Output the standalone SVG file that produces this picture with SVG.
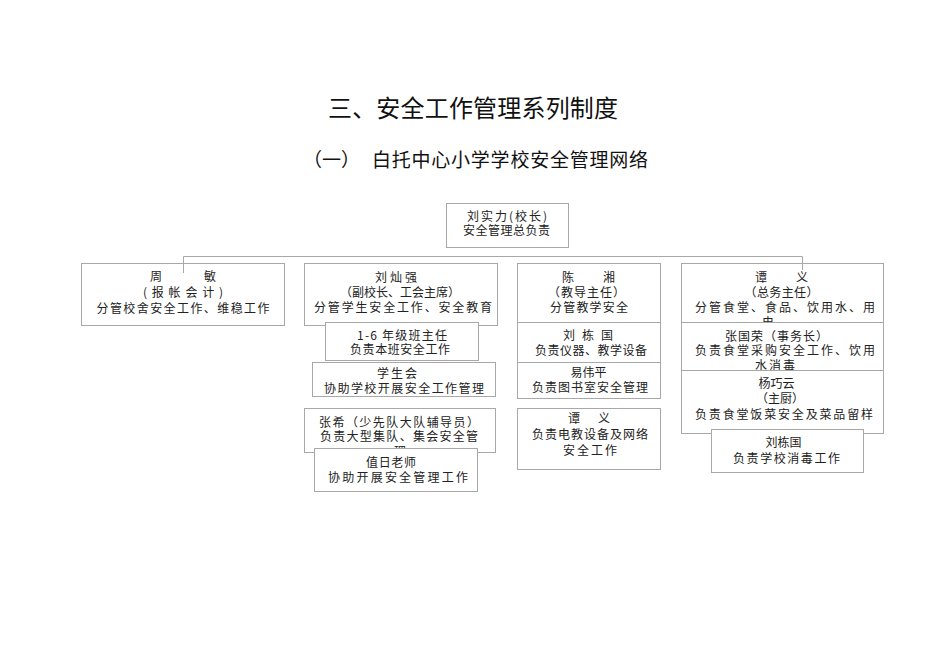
<svg xmlns="http://www.w3.org/2000/svg" width="950" height="672" viewBox="0 0 950 672">
<style>
.bx{fill:#fff;stroke:#a8a8a8;stroke-width:1}
.t{font-family:"Noto Sans CJK SC","Noto Sans",sans-serif;font-size:12px;fill:#222;text-anchor:middle}
.ln{stroke:#a8a8a8;stroke-width:1;fill:none}
.h1{font-family:"Noto Sans CJK SC",sans-serif;font-size:24px;fill:#111;text-anchor:middle}
.h2{font-family:"Noto Sans CJK SC",sans-serif;font-size:19px;fill:#111}
</style>
<rect width="950" height="672" fill="#fff"/>
<text class="h1" x="473" y="117" textLength="290" lengthAdjust="spacing">三、安全工作管理系列制度</text>
<text class="h2" x="303" y="167">（一）</text>
<text class="h2" x="372" y="167" textLength="276" lengthAdjust="spacing">白托中心小学学校安全管理网络</text>

<g id="n-top"><rect class="bx" x="446.5" y="203.5" width="122" height="44"/>
<text class="t" x="507" y="220.5" textLength="80" lengthAdjust="spacing">刘实力(校长)</text>
<text class="t" x="506.5" y="235" textLength="87" lengthAdjust="spacing">安全管理总负责</text></g>

<g id="n-zhoumin"><rect class="bx" x="81.5" y="263.5" width="203" height="62"/>
<text class="t" x="183" y="281" textLength="66" lengthAdjust="spacing">周　　　敏</text>
<text class="t" x="183" y="296.5" textLength="80" lengthAdjust="spacing">(报帐会计)</text>
<text class="t" x="183" y="313" textLength="173" lengthAdjust="spacing">分管校舍安全工作、维稳工作</text></g>

<g id="n-liucanqiang"><rect class="bx" x="304.5" y="263.5" width="193" height="62"/>
<text class="t" x="396" y="282" textLength="42" lengthAdjust="spacing">刘 灿 强</text>
<text class="t" x="400" y="296.5" textLength="120" lengthAdjust="spacing">（副校长、工会主席）</text>
<text class="t" x="403" y="311.5" textLength="178" lengthAdjust="spacing">分管学生安全工作、安全教育</text></g>

<g id="n-banzhuren"><rect class="bx" x="325.5" y="322.5" width="153" height="38"/>
<text class="t" x="402" y="339.5" textLength="90" lengthAdjust="spacing">1-6 年级班主任</text>
<text class="t" x="400" y="353.5" textLength="100" lengthAdjust="spacing">负责本班安全工作</text></g>

<g id="n-xueshenghui"><rect class="bx" x="312.5" y="362.5" width="183" height="34"/>
<text class="t" x="397" y="377.5" textLength="40" lengthAdjust="spacing">学 生 会</text>
<text class="t" x="404" y="392.5" textLength="160" lengthAdjust="spacing">协助学校开展安全工作管理</text></g>

<g id="n-zhangxi"><rect class="bx" x="304.5" y="408.5" width="191" height="44"/>
<text class="t" x="399" y="426.5" textLength="160" lengthAdjust="spacing">张希（少先队大队辅导员）</text>
<text class="t" x="399" y="440.5" textLength="158" lengthAdjust="spacing">负责大型集队、集会安全管</text>
<text class="t" x="400" y="455.5">理</text></g>

<g id="n-zhiri"><rect class="bx" x="314.5" y="448.5" width="163" height="43"/>
<text class="t" x="391" y="466.5" textLength="50" lengthAdjust="spacing">值日老师</text>
<text class="t" x="398" y="482" textLength="140" lengthAdjust="spacing">协助开展安全管理工作</text></g>

<g id="n-chenxiang"><rect class="bx" x="517.5" y="263.5" width="143" height="59"/>
<text class="t" x="588.5" y="282" textLength="53" lengthAdjust="spacing">陈　　湘</text>
<text class="t" x="586.5" y="296.5" textLength="77" lengthAdjust="spacing">（教导主任）</text>
<text class="t" x="589" y="311.5" textLength="78" lengthAdjust="spacing">分管教学安全</text></g>

<g id="n-liudongguo1"><rect class="bx" x="517.5" y="322.5" width="143" height="40"/>
<text class="t" x="588" y="339.5" textLength="50" lengthAdjust="spacing">刘 栋 国</text>
<text class="t" x="591" y="354.5" textLength="112" lengthAdjust="spacing">负责仪器、教学设备</text></g>

<g id="n-yiweiping"><rect class="bx" x="517.5" y="362.5" width="143" height="36"/>
<text class="t" x="588.5" y="376.5">易伟平</text>
<text class="t" x="590" y="391.5" textLength="116" lengthAdjust="spacing">负责图书室安全管理</text></g>

<g id="n-tanyi1"><rect class="bx" x="517.5" y="408.5" width="143" height="61"/>
<text class="t" x="589" y="422.5" textLength="42" lengthAdjust="spacing">谭　义</text>
<text class="t" x="590" y="438.5" textLength="116" lengthAdjust="spacing">负责电教设备及网络</text>
<text class="t" x="590" y="454.5" textLength="54" lengthAdjust="spacing">安全工作</text></g>

<g id="n-tanyi2"><rect class="bx" x="681.5" y="263.5" width="202" height="59"/>
<text class="t" x="781.5" y="282" textLength="53" lengthAdjust="spacing">谭　　义</text>
<text class="t" x="781.5" y="296.5" textLength="74" lengthAdjust="spacing">（总务主任）</text>
<text class="t" x="785" y="311.5" textLength="180" lengthAdjust="spacing">分管食堂、食品、饮用水、用</text>
<text class="t" x="768" y="326.5">电</text></g>

<g id="n-zhangguorong"><rect class="bx" x="681.5" y="322.5" width="202" height="48"/>
<text class="t" x="776.5" y="340.5" textLength="103" lengthAdjust="spacing">张国荣（事务长）</text>
<text class="t" x="785" y="355" textLength="180" lengthAdjust="spacing">负责食堂采购安全工作、饮用</text>
<text class="t" x="775" y="370" textLength="40" lengthAdjust="spacing">水消毒</text></g>

<g id="n-yangqiaoyun"><rect class="bx" x="681.5" y="370.5" width="202" height="63"/>
<text class="t" x="776.5" y="388">杨巧云</text>
<text class="t" x="780" y="403">（主厨）</text>
<text class="t" x="784" y="418.5" textLength="178" lengthAdjust="spacing">负责食堂饭菜安全及菜品留样</text></g>

<g id="n-liudongguo2"><rect class="bx" x="711.5" y="429.5" width="152" height="43"/>
<text class="t" x="783.5" y="446.5">刘栋国</text>
<text class="t" x="786.5" y="462.5" textLength="107" lengthAdjust="spacing">负责学校消毒工作</text></g>

<g id="connectors">
<path class="ln" d="M183.5 273 V256.5 H802.5 V270"/>
</g>
</svg>
